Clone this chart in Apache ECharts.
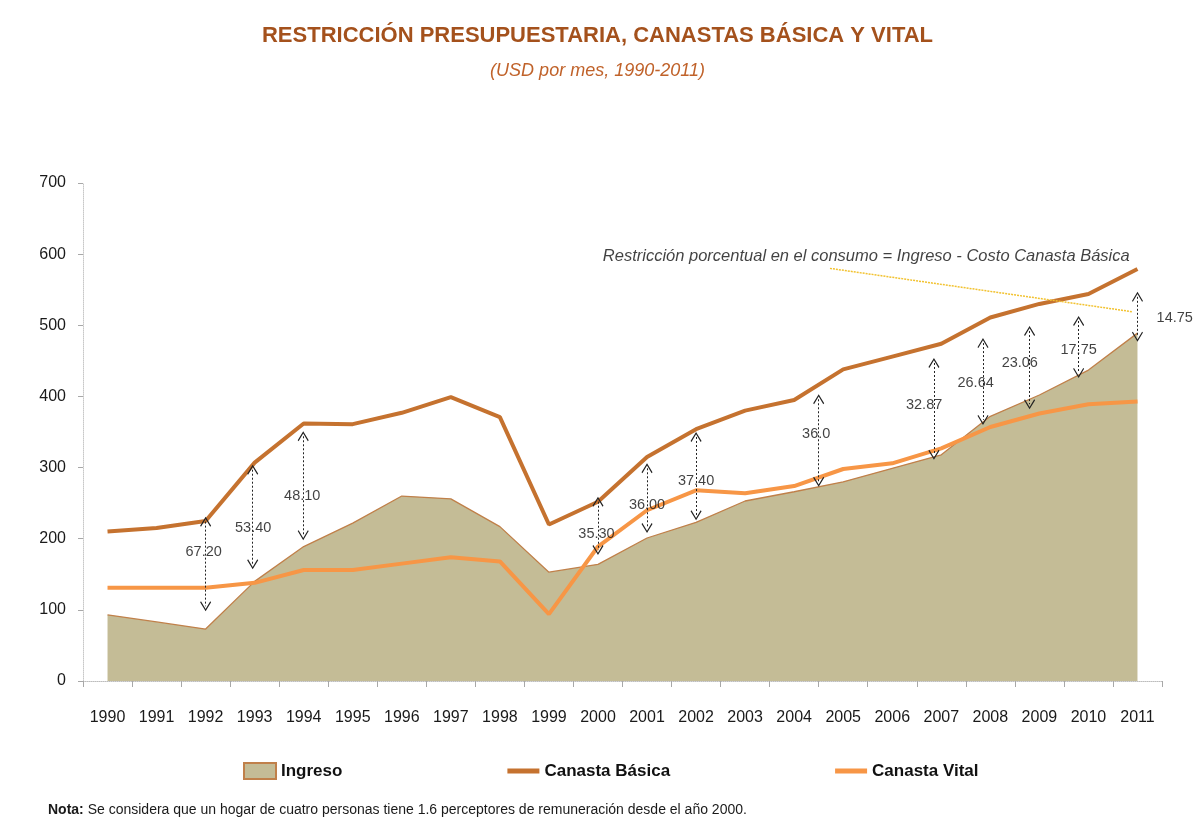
<!DOCTYPE html>
<html>
<head>
<meta charset="utf-8">
<script src="https://cdn.jsdelivr.net/npm/echarts@6/dist/echarts.min.js"></script>
<style>
html,body{margin:0;padding:0;background:#ffffff;}
#chart{width:1195px;height:823px;}
</style>
</head>
<body>
<div id="chart"></div>
<script>
// ---- Data ----
const years = ['1990','1991','1992','1993','1994','1995','1996','1997','1998','1999','2000','2001','2002','2003','2004','2005','2006','2007','2008','2009','2010','2011'];
const ingreso = [93,83,73,140,189,222,260,256,217,153,164,201,223,253,266,280,299,318,372,402,437,489];
const canastaBasica = [210,215,225,307,362,361,377,399,371,220,252,315,354,380,395,438,456,474,511,530,544,579];
const canastaVital = [131,131,131,138,156,156,165,174,168,94,189,240,268,264,274,298,306,327,357,376,389,393];
const yTicks = [0,100,200,300,400,500,600,700];

// Gap annotations (category index position, top value, bottom value)
const gapPos = [2, 2.96, 3.99, 10, 11, 12, 14.5, 16.85, 17.85, 18.8, 19.8, 21];
const gapTop = [224, 297, 344, 252, 299, 343, 396, 447, 475, 492, 506, 540];
const gapBottom = [105, 164, 205, 184, 215, 233, 280, 318, 367, 389, 433, 484];
const gapLabels = ['67.20','53.40','48.10','35.30','36.00','37.40','36.0','32.87','26.64','23.06','17.75','14.75'];
const gapLabelPos = [1.96, 2.97, 3.97, 9.97, 11, 12, 14.45, 16.65, 17.7, 18.6, 19.8, 21.76];
const gapLabelVal = [181, 215, 260, 207, 247, 281, 347, 388, 419, 447, 465, 510];

const noteText = 'Restricción porcentual en el consumo = Ingreso - Costo Canasta Básica';
const notePos = [15.47, 597];
const noteLineStart = [14.73, 580];
const noteLineEnd = [20.9, 519];

const FONT = '"Liberation Sans", Arial, sans-serif';
const chevron = 'path://M0,0 L10,12 L8.4,13.2 L0,3 L-8.4,13.2 L-10,12 Z';
const barIcon = 'path://M0,0 H32 V5 H0 Z';

const chart = echarts.init(document.getElementById('chart'), null, {renderer:'canvas'});

const gapLines = gapPos.map((p, i) => [
  {coord:[p, gapTop[i]]},
  {coord:[p, gapBottom[i]]}
]);
const gapLabelData = gapLabelPos.map((p, i) => [p, gapLabelVal[i], gapLabels[i]]);

const option = {
  backgroundColor: '#ffffff',
  animation: false,
  title: [
    {
      text: 'RESTRICCIÓN PRESUPUESTARIA, CANASTAS BÁSICA Y VITAL',
      left: 'center', top: 20,
      textStyle: {fontFamily: FONT, fontSize: 22, fontWeight: 'bold', color: '#a4511c'}
    },
    {
      text: '(USD por mes, 1990-2011)',
      left: 'center', top: 57,
      textStyle: {fontFamily: FONT, fontSize: 18, fontWeight: 'normal', fontStyle: 'italic', color: '#c0622a'}
    }
  ],
  legend: {
    left: 243, top: 762, padding: 0,
    itemGap: 165,
    itemWidth: 32, itemHeight: 16,
    textStyle: {fontFamily: FONT, fontSize: 17, fontWeight: 'bold', color: '#111'},
    data: [
      {name:'Ingreso', icon:'rect', itemStyle:{color:'#c4bc96', borderColor:'#c0804a', borderWidth:2}},
      {name:'Canasta Básica', icon: barIcon, itemStyle:{color:'#c5722f'}},
      {name:'Canasta Vital', icon: barIcon, itemStyle:{color:'#f79646'}}
    ]
  },
  grid: {left: 83, right: 33, top: 183, bottom: 142, containLabel: false},
  xAxis: [
    {
      type: 'category', data: years, boundaryGap: true,
      axisLine: {lineStyle: {color: '#bdbdbd', width: 1, type: 'dotted'}},
      axisTick: {show: true, length: 6, lineStyle: {color: '#a8a8a8'}},
      axisLabel: {fontFamily: FONT, fontSize: 16, color: '#1a1a1a', margin: 29, interval: 0},
      splitLine: {show: false}
    },
    {type: 'value', min: -0.5, max: 21.5, show: false}
  ],
  yAxis: {
    type: 'value', min: 0, max: 700, interval: 100,
    axisLine: {show: true, onZero: false, lineStyle: {color: '#c8c8c8', width: 1, type: 'dotted'}},
    axisTick: {show: true, length: 5, lineStyle: {color: '#a8a8a8'}},
    axisLabel: {fontFamily: FONT, fontSize: 16, color: '#1a1a1a', margin: 17,
      formatter: v => yTicks.includes(v) ? String(v) : ''},
    splitLine: {show: false}
  },
  series: [
    {
      name: 'Ingreso', type: 'line', data: ingreso, symbol: 'none',
      lineStyle: {color: '#c0804a', width: 1.3},
      itemStyle: {color: '#c4bc96'},
      areaStyle: {color: '#c4bc96', opacity: 1},
      z: 1
    },
    {
      name: 'Canasta Básica', type: 'line', data: canastaBasica, symbol: 'none',
      lineStyle: {color: '#c5722f', width: 4},
      itemStyle: {color: '#c5722f'},
      z: 3
    },
    {
      name: 'Canasta Vital', type: 'line', data: canastaVital, symbol: 'none',
      lineStyle: {color: '#f79646', width: 4},
      itemStyle: {color: '#f79646'},
      z: 3
    },
    {
      name: 'gaps', type: 'scatter', xAxisIndex: 1, yAxisIndex: 0,
      data: gapLabelData, symbolSize: 1, clip: false,
      itemStyle: {color: 'transparent'},
      label: {show: true, position: 'inside', formatter: p => p.data[2],
        fontFamily: FONT, fontSize: 14.5, color: '#111'},
      silent: true, z: 5,
      markLine: {
        silent: true, animation: false,
        symbol: [chevron, chevron], symbolSize: [11, 10],
        label: {show: false},
        lineStyle: {color: '#222', width: 1, type: [2, 2]},
        emphasis: {disabled: true},
        data: gapLines
      }
    },
    {
      name: 'note', type: 'scatter', xAxisIndex: 1, yAxisIndex: 0,
      data: [[notePos[0], notePos[1], noteText]], symbolSize: 1, clip: false,
      itemStyle: {color: 'transparent'},
      label: {show: true, position: 'inside', formatter: p => p.data[2],
        fontFamily: FONT, fontSize: 16.5, fontStyle: 'italic', color: '#111'},
      silent: true, z: 5,
      markLine: {
        silent: true, animation: false, symbol: ['none','none'],
        label: {show: false},
        lineStyle: {color: '#f2c230', width: 1.5, type: [2, 1]},
        emphasis: {disabled: true},
        data: [[{coord: noteLineStart}, {coord: noteLineEnd}]]
      }
    }
  ],
  graphic: [
    {
      type: 'text', left: 48, top: 803,
      style: {
        text: '{b|Nota:} Se considera que un hogar de cuatro personas tiene 1.6 perceptores de remuneración desde el año 2000.',
        fontFamily: FONT, fontSize: 14, fill: '#1a1a1a',
        rich: {b: {fontFamily: FONT, fontSize: 14, fontWeight: 'bold', fill: '#1a1a1a'}}
      }
    }
  ]
};
chart.setOption(option);
</script>
</body>
</html>
